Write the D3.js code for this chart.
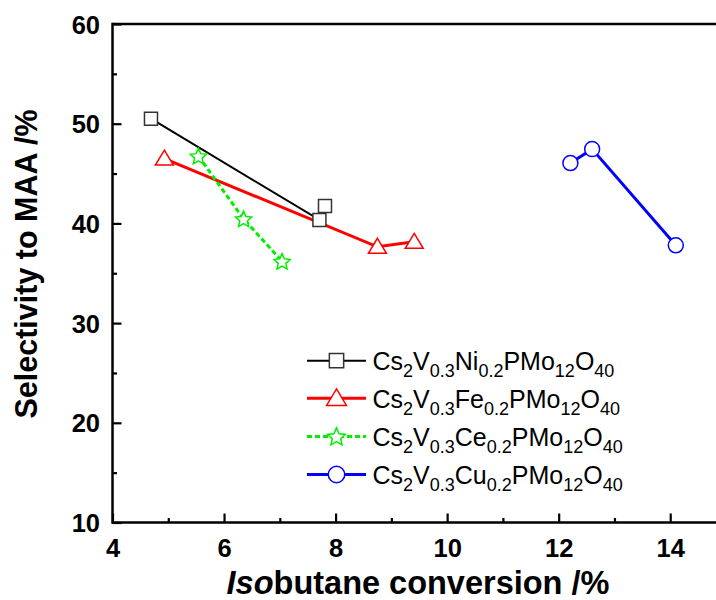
<!DOCTYPE html>
<html>
<head>
<meta charset="utf-8">
<script src="https://cdn.jsdelivr.net/npm/d3@7"></script>
<style>
  html, body { margin: 0; padding: 0; background: #fff; }
  svg { display: block; font-family: Arial, "Liberation Sans", Helvetica, sans-serif; }
</style>
</head>
<body>
<svg id="chart" width="716" height="600"></svg>
<script>
// Isobutane conversion (%) and MAA selectivity (%) for each catalyst
const niX = [4.69, 7.71, 7.81];
const niY = [50.5, 40.35, 41.75];
const feX = [4.93, 8.75, 9.41];
const feY = [46.5, 37.65, 38.15];
const ceX = [5.54, 6.35, 7.04];
const ceY = [46.75, 40.45, 36.2];
const cuX = [12.21, 12.60, 14.10];
const cuY = [46.05, 47.45, 37.8];

// Axis ticks
const xTicks = [4, 6, 8, 10, 12, 14];
const xMinor = [5, 7, 9, 11, 13];
const yTicks = [10, 20, 30, 40, 50, 60];
const yMinor = [15, 25, 35, 45, 55];

// Legend labels, split into normal / subscript runs
const niLabel = [["Cs", 0], ["2", 1], ["V", 0], ["0.3", 1], ["Ni", 0], ["0.2", 1], ["PMo", 0], ["12", 1], ["O", 0], ["40", 1]];
const feLabel = [["Cs", 0], ["2", 1], ["V", 0], ["0.3", 1], ["Fe", 0], ["0.2", 1], ["PMo", 0], ["12", 1], ["O", 0], ["40", 1]];
const ceLabel = [["Cs", 0], ["2", 1], ["V", 0], ["0.3", 1], ["Ce", 0], ["0.2", 1], ["PMo", 0], ["12", 1], ["O", 0], ["40", 1]];
const cuLabel = [["Cs", 0], ["2", 1], ["V", 0], ["0.3", 1], ["Cu", 0], ["0.2", 1], ["PMo", 0], ["12", 1], ["O", 0], ["40", 1]];

const series = [
  { xs: niX, ys: niY, label: niLabel, color: "#000000", width: 2,   dash: null,  symbol: "square" },
  { xs: feX, ys: feY, label: feLabel, color: "#ff0000", width: 3,   dash: null,  symbol: "triangle" },
  { xs: ceX, ys: ceY, label: ceLabel, color: "#00ee00", width: 3,   dash: "5,3", symbol: "star" },
  { xs: cuX, ys: cuY, label: cuLabel, color: "#0000ff", width: 3,   dash: null,  symbol: "circle" }
];

const svg = d3.select("#chart");
const x = d3.scaleLinear().domain([4, 15]).range([112.5, 726]);
const y = d3.scaleLinear().domain([10, 60]).range([522.5, 24]);

// Symbol path builders (centred at 0,0)
function symbolPath(kind, scale) {
  const k = scale || 1;
  const p = d3.path();
  if (kind === "square") {
    const h = 6.5 * k;
    p.rect(-h, -h, 2 * h, 2 * h);
  } else if (kind === "triangle") {
    p.moveTo(0, -8.5 * k); p.lineTo(9 * k, 6.5 * k); p.lineTo(-9 * k, 6.5 * k); p.closePath();
  } else if (kind === "circle") {
    p.arc(0, 0, 7.5 * k, 0, 2 * Math.PI);
  } else if (kind === "star") {
    const ro = 8.5 * k, ri = 4.0 * k;
    for (let i = 0; i < 10; i++) {
      const r = i % 2 === 0 ? ro : ri;
      const a = -Math.PI / 2 + i * Math.PI / 5;
      const px = r * Math.cos(a), py = r * Math.sin(a) + 0.8;
      if (i === 0) p.moveTo(px, py); else p.lineTo(px, py);
    }
    p.closePath();
  }
  return p.toString();
}

// Frame: top edge
svg.append("line")
  .attr("x1", x(4)).attr("x2", x(15))
  .attr("y1", y(60)).attr("y2", y(60))
  .attr("stroke", "#000").attr("stroke-width", 2.5);

// Bottom axis with inward ticks
const xAxis = svg.append("g").attr("transform", `translate(0,${y(10)})`)
  .call(d3.axisBottom(x).tickValues(xTicks).tickSize(-9).tickFormat(d3.format("d")).tickPadding(0))
  .call(g => g.select(".domain").remove());
xAxis.selectAll(".tick line").attr("stroke-width", 2.2);
xAxis.selectAll(".tick text")
  .attr("y", 34).attr("dy", null)
  .style("font-size", "25.5px").style("font-weight", "bold").attr("fill", "#000");
const xMinorG = svg.append("g").attr("transform", `translate(0,${y(10)})`)
  .call(d3.axisBottom(x).tickValues(xMinor).tickSize(-4.5).tickFormat(""))
  .call(g => g.select(".domain").remove());
xMinorG.selectAll(".tick line").attr("stroke-width", 2.2);

// Left axis with inward ticks
const yAxis = svg.append("g").attr("transform", `translate(${x(4)},0)`)
  .call(d3.axisLeft(y).tickValues(yTicks).tickSize(-9).tickFormat(d3.format("d")).tickPadding(0))
  .call(g => g.select(".domain").remove());
yAxis.selectAll(".tick line").attr("stroke-width", 2.2);
yAxis.selectAll(".tick text")
  .attr("x", -12.5).attr("dy", "0.36em")
  .style("font-size", "25.5px").style("font-weight", "bold").attr("fill", "#000");
const yMinorG = svg.append("g").attr("transform", `translate(${x(4)},0)`)
  .call(d3.axisLeft(y).tickValues(yMinor).tickSize(-4.5).tickFormat(""))
  .call(g => g.select(".domain").remove());
yMinorG.selectAll(".tick line").attr("stroke-width", 2.2);

// Axis lines
svg.append("line")
  .attr("x1", x(4)).attr("x2", x(15)).attr("y1", y(10)).attr("y2", y(10))
  .attr("stroke", "#000").attr("stroke-width", 2.5);
svg.append("line")
  .attr("x1", x(4)).attr("x2", x(4)).attr("y1", y(10) + 1.25).attr("y2", y(60) - 1.25)
  .attr("stroke", "#000").attr("stroke-width", 2.5);

// Axis titles
const xTitle = svg.append("text")
  .attr("x", 418).attr("y", 594)
  .attr("text-anchor", "middle")
  .style("font-size", "32.5px").style("font-weight", "bold");
xTitle.append("tspan").style("font-style", "italic").text("Iso");
xTitle.append("tspan").text("butane conversion /%");

svg.append("text")
  .attr("transform", "translate(37,264) rotate(-90)")
  .attr("text-anchor", "middle")
  .style("font-size", "30.5px").style("font-weight", "bold")
  .text("Selectivity to MAA /%");

// Series lines
const line = d3.line().x(d => x(d[0])).y(d => y(d[1]));
series.forEach(s => {
  const pts = s.xs.map((v, i) => [v, s.ys[i]]);
  svg.append("path")
    .datum(pts)
    .attr("d", line)
    .attr("fill", "none")
    .attr("stroke", s.color)
    .attr("stroke-width", s.width)
    .attr("stroke-dasharray", s.dash);
});

// Series markers
series.forEach(s => {
  const pts = s.xs.map((v, i) => [v, s.ys[i]]);
  svg.append("g").selectAll("path")
    .data(pts)
    .join("path")
    .attr("transform", d => `translate(${x(d[0])},${y(d[1])})`)
    .attr("d", symbolPath(s.symbol))
    .attr("fill", "#fff")
    .attr("stroke", s.symbol === "square" ? "#333" : s.color)
    .attr("stroke-width", 1.5);
});

// Legend
const legendRows = [360.7, 398.3, 436.5, 474.5];
const legend = svg.append("g");
series.forEach((s, i) => {
  const ly = legendRows[i];
  const g = legend.append("g").attr("transform", `translate(0,${ly})`);
  g.append("line")
    .attr("x1", 307).attr("x2", 366).attr("y1", 0).attr("y2", 0)
    .attr("stroke", s.color).attr("stroke-width", s.width)
    .attr("stroke-dasharray", s.dash);
  g.append("path")
    .attr("transform", "translate(336.5,0)")
    .attr("d", symbolPath(s.symbol, 1.1))
    .attr("fill", "#fff")
    .attr("stroke", s.symbol === "square" ? "#333" : s.color)
    .attr("stroke-width", 1.5);
  const t = g.append("text").attr("x", 372.5).attr("y", 9.5).style("font-size", "25px");
  let shifted = false;
  s.label.forEach(([txt, sub]) => {
    const ts = t.append("tspan").text(txt);
    if (sub && !shifted) { ts.attr("dy", 7).style("font-size", "18px"); shifted = true; }
    else if (!sub && shifted) { ts.attr("dy", -7); shifted = false; }
    else if (sub) { ts.style("font-size", "18px"); }
  });
});
</script>
</body>
</html>
